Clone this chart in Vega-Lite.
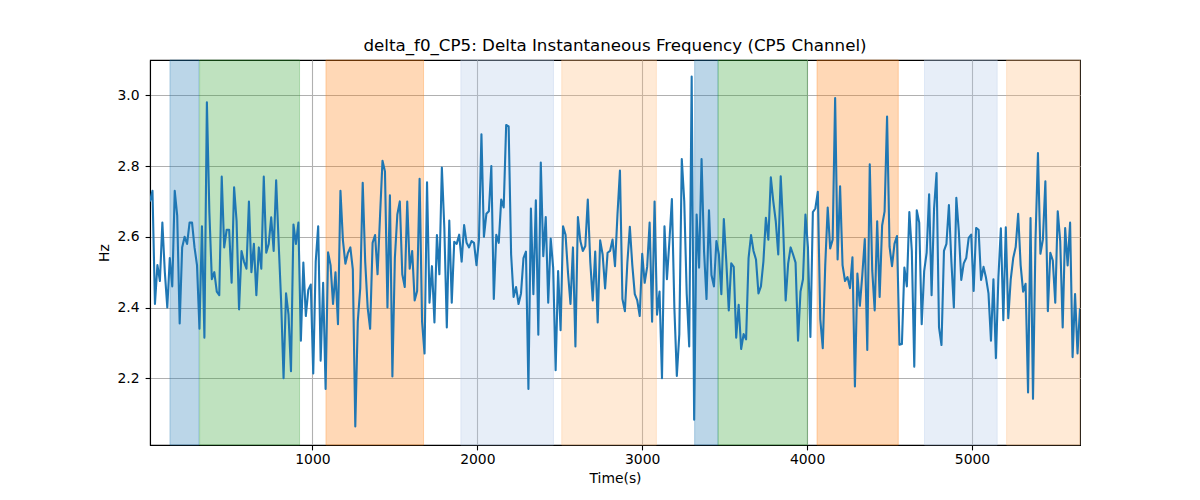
{
  "$schema": "https://vega.github.io/schema/vega-lite/v6.json",
  "width": 930,
  "height": 385,
  "autosize": {"type": "none"},
  "padding": {"left": 150, "top": 60, "right": 120, "bottom": 55},
  "background": "white",
  "title": {
    "text": "delta_f0_CP5: Delta Instantaneous Frequency (CP5 Channel)",
    "font": "DejaVu Sans",
    "fontSize": 16.7,
    "fontWeight": "normal",
    "color": "black",
    "anchor": "middle",
    "offset": 5
  },
  "datasets": {
    "spans": [
      {"start": 136, "end": 312, "phase": "P1"},
      {"start": 316, "end": 922, "phase": "P2"},
      {"start": 1082, "end": 1674, "phase": "P3"},
      {"start": 1900, "end": 2462, "phase": "P4"},
      {"start": 2512, "end": 3086, "phase": "P5"},
      {"start": 3318, "end": 3460, "phase": "P1"},
      {"start": 3460, "end": 4002, "phase": "P2"},
      {"start": 4060, "end": 4553, "phase": "P3"},
      {"start": 4712, "end": 5153, "phase": "P4"},
      {"start": 5210, "end": 5655, "phase": "P5"}
    ],
    "series": [
      {"t": 15, "v": 2.70}, {"t": 30, "v": 2.73}, {"t": 45, "v": 2.41}, {"t": 60, "v": 2.52}, {"t": 75, "v": 2.475}, {"t": 90, "v": 2.64}, {"t": 105, "v": 2.50}, {"t": 120, "v": 2.40}, {"t": 135, "v": 2.54}, {"t": 150, "v": 2.46},
      {"t": 165, "v": 2.73}, {"t": 180, "v": 2.66}, {"t": 195, "v": 2.355}, {"t": 210, "v": 2.57}, {"t": 225, "v": 2.60}, {"t": 240, "v": 2.58}, {"t": 255, "v": 2.64}, {"t": 270, "v": 2.64}, {"t": 285, "v": 2.57}, {"t": 300, "v": 2.52},
      {"t": 315, "v": 2.34}, {"t": 330, "v": 2.63}, {"t": 345, "v": 2.315}, {"t": 360, "v": 2.98}, {"t": 375, "v": 2.67}, {"t": 390, "v": 2.48}, {"t": 405, "v": 2.50}, {"t": 420, "v": 2.445}, {"t": 435, "v": 2.435}, {"t": 450, "v": 2.77},
      {"t": 465, "v": 2.57}, {"t": 480, "v": 2.62}, {"t": 495, "v": 2.62}, {"t": 510, "v": 2.47}, {"t": 525, "v": 2.74}, {"t": 540, "v": 2.645}, {"t": 555, "v": 2.395}, {"t": 570, "v": 2.56}, {"t": 585, "v": 2.53}, {"t": 600, "v": 2.51},
      {"t": 615, "v": 2.70}, {"t": 630, "v": 2.50}, {"t": 645, "v": 2.58}, {"t": 660, "v": 2.435}, {"t": 675, "v": 2.57}, {"t": 690, "v": 2.51}, {"t": 705, "v": 2.77}, {"t": 720, "v": 2.555}, {"t": 735, "v": 2.58}, {"t": 750, "v": 2.655},
      {"t": 765, "v": 2.56}, {"t": 780, "v": 2.76}, {"t": 795, "v": 2.585}, {"t": 810, "v": 2.42}, {"t": 825, "v": 2.20}, {"t": 840, "v": 2.44}, {"t": 855, "v": 2.38}, {"t": 870, "v": 2.22}, {"t": 885, "v": 2.635}, {"t": 900, "v": 2.58},
      {"t": 915, "v": 2.64},
      {"t": 930, "v": 2.306}, {"t": 945, "v": 2.527}, {"t": 960, "v": 2.376}, {"t": 975, "v": 2.45}, {"t": 990, "v": 2.465}, {"t": 1005, "v": 2.214}, {"t": 1020, "v": 2.53}, {"t": 1035, "v": 2.63}, {"t": 1050, "v": 2.25}, {"t": 1065, "v": 2.47},
      {"t": 1080, "v": 2.17}, {"t": 1095, "v": 2.556}, {"t": 1110, "v": 2.52}, {"t": 1125, "v": 2.41}, {"t": 1140, "v": 2.50}, {"t": 1155, "v": 2.353}, {"t": 1170, "v": 2.73}, {"t": 1185, "v": 2.59}, {"t": 1200, "v": 2.524}, {"t": 1215, "v": 2.554},
      {"t": 1230, "v": 2.57}, {"t": 1245, "v": 2.508}, {"t": 1260, "v": 2.064}, {"t": 1275, "v": 2.36}, {"t": 1290, "v": 2.455}, {"t": 1305, "v": 2.753}, {"t": 1320, "v": 2.53}, {"t": 1335, "v": 2.40}, {"t": 1350, "v": 2.34}, {"t": 1365, "v": 2.583},
      {"t": 1380, "v": 2.605}, {"t": 1395, "v": 2.494}, {"t": 1410, "v": 2.658}, {"t": 1425, "v": 2.815}, {"t": 1440, "v": 2.785}, {"t": 1455, "v": 2.40}, {"t": 1470, "v": 2.717}, {"t": 1485, "v": 2.205}, {"t": 1500, "v": 2.54}, {"t": 1515, "v": 2.663},
      {"t": 1530, "v": 2.70}, {"t": 1545, "v": 2.494}, {"t": 1560, "v": 2.458}, {"t": 1575, "v": 2.70}, {"t": 1590, "v": 2.51}, {"t": 1605, "v": 2.56}, {"t": 1620, "v": 2.42}, {"t": 1635, "v": 2.447}, {"t": 1650, "v": 2.764}, {"t": 1665, "v": 2.36},
      {"t": 1680, "v": 2.27}, {"t": 1695, "v": 2.754}, {"t": 1710, "v": 2.414}, {"t": 1725, "v": 2.517}, {"t": 1740, "v": 2.358}, {"t": 1755, "v": 2.605}, {"t": 1770, "v": 2.494}, {"t": 1785, "v": 2.796}, {"t": 1800, "v": 2.625}, {"t": 1815, "v": 2.344},
      {"t": 1830, "v": 2.646},
      {"t": 1845, "v": 2.414}, {"t": 1860, "v": 2.586}, {"t": 1875, "v": 2.58}, {"t": 1890, "v": 2.606}, {"t": 1905, "v": 2.53}, {"t": 1920, "v": 2.633}, {"t": 1935, "v": 2.583}, {"t": 1950, "v": 2.57}, {"t": 1965, "v": 2.588}, {"t": 1980, "v": 2.583},
      {"t": 1995, "v": 2.52}, {"t": 2010, "v": 2.592}, {"t": 2025, "v": 2.89}, {"t": 2040, "v": 2.60}, {"t": 2055, "v": 2.665}, {"t": 2070, "v": 2.672}, {"t": 2085, "v": 2.80}, {"t": 2100, "v": 2.424}, {"t": 2115, "v": 2.606}, {"t": 2130, "v": 2.583},
      {"t": 2145, "v": 2.705}, {"t": 2160, "v": 2.683}, {"t": 2175, "v": 2.916}, {"t": 2190, "v": 2.912}, {"t": 2205, "v": 2.55}, {"t": 2220, "v": 2.43}, {"t": 2235, "v": 2.458}, {"t": 2250, "v": 2.41}, {"t": 2265, "v": 2.44}, {"t": 2280, "v": 2.54},
      {"t": 2295, "v": 2.558}, {"t": 2310, "v": 2.17}, {"t": 2325, "v": 2.68}, {"t": 2340, "v": 2.438}, {"t": 2355, "v": 2.703}, {"t": 2370, "v": 2.323}, {"t": 2385, "v": 2.81}, {"t": 2400, "v": 2.545}, {"t": 2415, "v": 2.656}, {"t": 2430, "v": 2.414},
      {"t": 2445, "v": 2.595}, {"t": 2460, "v": 2.513}, {"t": 2475, "v": 2.223}, {"t": 2490, "v": 2.503}, {"t": 2505, "v": 2.336}, {"t": 2520, "v": 2.63}, {"t": 2535, "v": 2.606}, {"t": 2550, "v": 2.498}, {"t": 2565, "v": 2.41}, {"t": 2580, "v": 2.57},
      {"t": 2595, "v": 2.29}, {"t": 2610, "v": 2.656}, {"t": 2625, "v": 2.588}, {"t": 2640, "v": 2.56}, {"t": 2655, "v": 2.574}, {"t": 2670, "v": 2.705}, {"t": 2685, "v": 2.53}, {"t": 2700, "v": 2.42}, {"t": 2715, "v": 2.558}, {"t": 2730, "v": 2.358},
      {"t": 2745, "v": 2.59}, {"t": 2760, "v": 2.55},
      {"t": 2775, "v": 2.454}, {"t": 2790, "v": 2.555}, {"t": 2805, "v": 2.56}, {"t": 2820, "v": 2.592}, {"t": 2835, "v": 2.517}, {"t": 2850, "v": 2.663}, {"t": 2865, "v": 2.787}, {"t": 2880, "v": 2.424}, {"t": 2895, "v": 2.39}, {"t": 2910, "v": 2.527},
      {"t": 2925, "v": 2.628}, {"t": 2940, "v": 2.52}, {"t": 2955, "v": 2.438}, {"t": 2970, "v": 2.42}, {"t": 2985, "v": 2.376}, {"t": 3000, "v": 2.552}, {"t": 3015, "v": 2.47}, {"t": 3030, "v": 2.515}, {"t": 3045, "v": 2.64}, {"t": 3060, "v": 2.36},
      {"t": 3075, "v": 2.70}, {"t": 3090, "v": 2.38}, {"t": 3105, "v": 2.445}, {"t": 3120, "v": 2.20}, {"t": 3135, "v": 2.63}, {"t": 3150, "v": 2.48}, {"t": 3165, "v": 2.588}, {"t": 3180, "v": 2.707}, {"t": 3195, "v": 2.40}, {"t": 3210, "v": 2.207},
      {"t": 3225, "v": 2.325}, {"t": 3240, "v": 2.82}, {"t": 3255, "v": 2.70}, {"t": 3270, "v": 2.438}, {"t": 3285, "v": 2.29}, {"t": 3300, "v": 3.053}, {"t": 3315, "v": 2.083}, {"t": 3330, "v": 2.663}, {"t": 3345, "v": 2.513}, {"t": 3360, "v": 2.82},
      {"t": 3375, "v": 2.56}, {"t": 3390, "v": 2.424}, {"t": 3405, "v": 2.675}, {"t": 3420, "v": 2.492}, {"t": 3435, "v": 2.46}, {"t": 3450, "v": 2.588}, {"t": 3465, "v": 2.55}, {"t": 3480, "v": 2.438}, {"t": 3495, "v": 2.65}, {"t": 3510, "v": 2.53},
      {"t": 3525, "v": 2.392}, {"t": 3540, "v": 2.525}, {"t": 3555, "v": 2.515}, {"t": 3570, "v": 2.315}, {"t": 3585, "v": 2.408}, {"t": 3600, "v": 2.283}, {"t": 3615, "v": 2.325}, {"t": 3630, "v": 2.31}, {"t": 3645, "v": 2.54}, {"t": 3660, "v": 2.605},
      {"t": 3675, "v": 2.56},
      {"t": 3690, "v": 2.536}, {"t": 3705, "v": 2.44}, {"t": 3720, "v": 2.46}, {"t": 3735, "v": 2.53}, {"t": 3750, "v": 2.654}, {"t": 3765, "v": 2.592}, {"t": 3780, "v": 2.768}, {"t": 3795, "v": 2.70}, {"t": 3810, "v": 2.644}, {"t": 3825, "v": 2.55},
      {"t": 3840, "v": 2.771}, {"t": 3855, "v": 2.625}, {"t": 3870, "v": 2.42}, {"t": 3885, "v": 2.524}, {"t": 3900, "v": 2.57}, {"t": 3915, "v": 2.55}, {"t": 3930, "v": 2.527}, {"t": 3945, "v": 2.306}, {"t": 3960, "v": 2.445}, {"t": 3975, "v": 2.48},
      {"t": 3990, "v": 2.663}, {"t": 4005, "v": 2.571}, {"t": 4020, "v": 2.317}, {"t": 4035, "v": 2.67}, {"t": 4050, "v": 2.68}, {"t": 4065, "v": 2.727}, {"t": 4080, "v": 2.367}, {"t": 4095, "v": 2.285}, {"t": 4110, "v": 2.52}, {"t": 4125, "v": 2.683},
      {"t": 4140, "v": 2.567}, {"t": 4155, "v": 2.592}, {"t": 4170, "v": 2.992}, {"t": 4185, "v": 2.536}, {"t": 4200, "v": 2.743}, {"t": 4215, "v": 2.52}, {"t": 4230, "v": 2.475}, {"t": 4245, "v": 2.486}, {"t": 4260, "v": 2.455}, {"t": 4275, "v": 2.542},
      {"t": 4290, "v": 2.177}, {"t": 4305, "v": 2.496}, {"t": 4320, "v": 2.405}, {"t": 4335, "v": 2.494}, {"t": 4350, "v": 2.594}, {"t": 4365, "v": 2.28}, {"t": 4380, "v": 2.805}, {"t": 4395, "v": 2.505}, {"t": 4410, "v": 2.392}, {"t": 4425, "v": 2.644},
      {"t": 4440, "v": 2.43}, {"t": 4455, "v": 2.632}, {"t": 4470, "v": 2.672}, {"t": 4485, "v": 2.94}, {"t": 4500, "v": 2.572}, {"t": 4515, "v": 2.517}, {"t": 4530, "v": 2.58}, {"t": 4545, "v": 2.602}, {"t": 4560, "v": 2.295}, {"t": 4575, "v": 2.297},
      {"t": 4590, "v": 2.513}, {"t": 4605, "v": 2.46},
      {"t": 4620, "v": 2.67}, {"t": 4635, "v": 2.56}, {"t": 4650, "v": 2.233}, {"t": 4665, "v": 2.675}, {"t": 4680, "v": 2.64}, {"t": 4695, "v": 2.353}, {"t": 4710, "v": 2.503}, {"t": 4725, "v": 2.555}, {"t": 4740, "v": 2.72}, {"t": 4755, "v": 2.435},
      {"t": 4770, "v": 2.68}, {"t": 4785, "v": 2.78}, {"t": 4800, "v": 2.344}, {"t": 4815, "v": 2.294}, {"t": 4830, "v": 2.56}, {"t": 4845, "v": 2.58}, {"t": 4860, "v": 2.69}, {"t": 4875, "v": 2.53}, {"t": 4890, "v": 2.40}, {"t": 4905, "v": 2.71},
      {"t": 4920, "v": 2.616}, {"t": 4935, "v": 2.478}, {"t": 4950, "v": 2.525}, {"t": 4965, "v": 2.54}, {"t": 4980, "v": 2.597}, {"t": 4995, "v": 2.606}, {"t": 5010, "v": 2.447}, {"t": 5025, "v": 2.625}, {"t": 5040, "v": 2.62}, {"t": 5055, "v": 2.478},
      {"t": 5070, "v": 2.515}, {"t": 5085, "v": 2.484}, {"t": 5100, "v": 2.44}, {"t": 5115, "v": 2.306}, {"t": 5130, "v": 2.48}, {"t": 5145, "v": 2.257}, {"t": 5160, "v": 2.484}, {"t": 5175, "v": 2.624}, {"t": 5190, "v": 2.364}, {"t": 5205, "v": 2.627},
      {"t": 5220, "v": 2.37}, {"t": 5235, "v": 2.48}, {"t": 5250, "v": 2.54}, {"t": 5265, "v": 2.571}, {"t": 5280, "v": 2.665}, {"t": 5295, "v": 2.52}, {"t": 5310, "v": 2.445}, {"t": 5325, "v": 2.467}, {"t": 5340, "v": 2.16}, {"t": 5355, "v": 2.653},
      {"t": 5370, "v": 2.142}, {"t": 5385, "v": 2.588}, {"t": 5400, "v": 2.837}, {"t": 5415, "v": 2.552}, {"t": 5430, "v": 2.592}, {"t": 5445, "v": 2.757}, {"t": 5460, "v": 2.39}, {"t": 5475, "v": 2.555}, {"t": 5490, "v": 2.533}, {"t": 5505, "v": 2.414},
      {"t": 5520, "v": 2.672}, {"t": 5535, "v": 2.588}, {"t": 5550, "v": 2.344}, {"t": 5565, "v": 2.625}, {"t": 5580, "v": 2.519}, {"t": 5595, "v": 2.64}, {"t": 5610, "v": 2.26}, {"t": 5625, "v": 2.438}, {"t": 5640, "v": 2.27}, {"t": 5655, "v": 2.398}
    ]
  },
  "layer": [
    {
      "data": {"name": "spans"},
      "mark": {"type": "rect", "fillOpacity": 0.3, "strokeOpacity": 0.3, "strokeWidth": 1},
      "encoding": {
        "x": {"field": "start", "type": "quantitative", "title": "Time(s)"},
        "x2": {"field": "end"},
        "color": {
          "field": "phase",
          "type": "nominal",
          "scale": {
            "domain": ["P1", "P2", "P3", "P4", "P5"],
            "range": ["#1f77b4", "#2ca02c", "#ff7f0e", "#aec7e8", "#ffbb78"]
          },
          "legend": null
        },
        "stroke": {
          "field": "phase",
          "type": "nominal",
          "scale": {
            "domain": ["P1", "P2", "P3", "P4", "P5"],
            "range": ["#1f77b4", "#2ca02c", "#ff7f0e", "#aec7e8", "#ffbb78"]
          },
          "legend": null
        }
      }
    },
    {
      "data": {"name": "series"},
      "mark": {"type": "line", "color": "#1f77b4", "strokeWidth": 2.1, "strokeJoin": "round", "clip": true},
      "encoding": {
        "x": {
          "field": "t",
          "type": "quantitative",
          "title": "Time(s)",
          "scale": {"domain": [15, 5655], "nice": false, "zero": false},
          "axis": {"values": [1000, 2000, 3000, 4000, 5000], "format": "d", "labelPadding": 3, "titlePadding": 5}
        },
        "y": {
          "field": "v",
          "type": "quantitative",
          "title": "Hz",
          "scale": {"domain": [2.0115, 3.0998], "nice": false, "zero": false},
          "axis": {"values": [2.2, 2.4, 2.6, 2.8, 3.0], "format": ".1f", "labelPadding": 6, "titlePadding": 6}
        }
      }
    }
  ],
  "config": {
    "view": {"stroke": "black", "strokeWidth": 1.1},
    "axis": {
      "labelFont": "DejaVu Sans",
      "titleFont": "DejaVu Sans",
      "labelFontSize": 13.9,
      "titleFontSize": 13.9,
      "titleFontWeight": "normal",
      "labelColor": "black",
      "titleColor": "black",
      "domainColor": "black",
      "domainWidth": 1.1,
      "tickColor": "black",
      "tickWidth": 1.1,
      "tickSize": 4.9,
      "gridColor": "#b0b0b0",
      "gridWidth": 1.1,
      "grid": true
    }
  }
}
